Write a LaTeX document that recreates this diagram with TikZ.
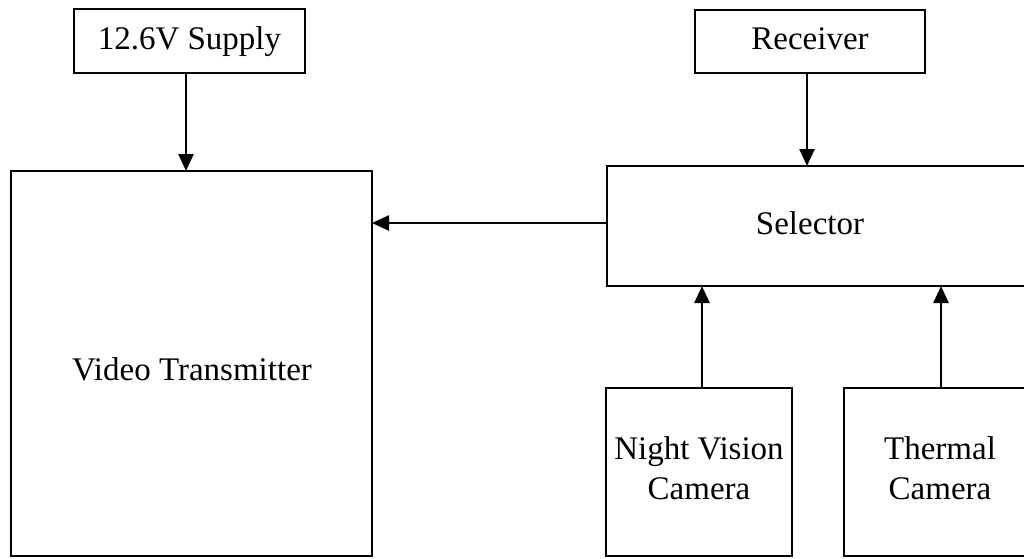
\documentclass[tikz,border=0pt]{standalone}
\usepackage{fontspec}
\setmainfont{Liberation Serif}
\usetikzlibrary{arrows.meta}
\begin{document}
\begin{tikzpicture}[x=1pt,y=-1pt,
  box/.style={draw=black, line width=2.5pt, rectangle, inner sep=0pt, outer sep=0pt,
              font=\fontsize{33}{40}\selectfont, align=center,
              text height=23pt, text depth=7pt},
  lbl/.style={inner sep=0pt, font=\fontsize{33}{40}\selectfont, align=center},
  arr/.style={line width=2.5pt, -{Triangle[length=17pt,width=15pt]}}]
  \clip (0,0) rectangle (1024,558);
  \fill[white] (0,0) rectangle (1024,558);

  % blocks
  \node[box, minimum width=231pt, minimum height=64pt] (sup) at (189.5,41) {12.6V Supply};
  \node[box, minimum width=230pt, minimum height=63pt] (rec) at (810,41.5) {Receiver};
  \node[box, minimum width=361pt, minimum height=385pt] (vt) at (191.5,363.5) {};
  \node[lbl] (vtl) at (192,369) {Video Transmitter};
  \node[box, minimum width=433pt, minimum height=120pt] (sel) at (823.5,226) {};
  \node[lbl] (sell) at (810,223) {Selector};
  \node[box, minimum width=186pt, minimum height=168pt] (nvc) at (699,472) {};
  \node[lbl] (nvcl) at (699,468) {Night Vision\\Camera};
  \node[box, minimum width=196pt, minimum height=168pt] (thm) at (942,472) {};
  \node[lbl] (thml) at (940,468) {Thermal\\Camera};

  % connections
  \draw[arr] ([xshift=-3.5pt]sup.south) -- ([xshift=-3.5pt]sup.south |- vt.north);
  \draw[arr] ([xshift=-3pt]rec.south) -- ([xshift=-3pt]rec.south |- sel.north);
  \draw[arr] ([yshift=3pt]sel.west) -- ([yshift=3pt]sel.west -| vt.east);
  \draw[arr] ([xshift=3pt]nvc.north) -- ([xshift=3pt]nvc.north |- sel.south);
  \draw[arr] ([xshift=-1pt]thm.north) -- ([xshift=-1pt]thm.north |- sel.south);
\end{tikzpicture}
\end{document}
